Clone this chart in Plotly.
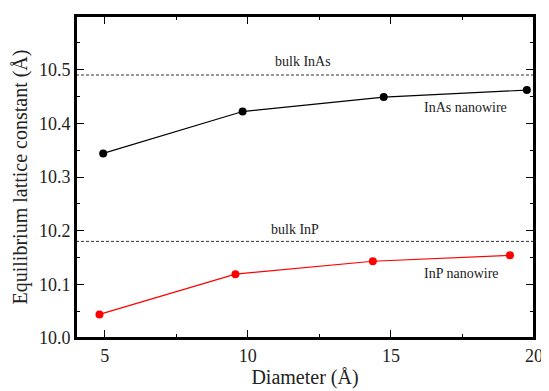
import plotly.graph_objects as go

inas_d = [4.95, 9.82, 14.75, 19.75]
inas_a = [10.344, 10.422, 10.449, 10.462]
inp_d = [4.82, 9.57, 14.37, 19.16]
inp_a = [10.044, 10.119, 10.143, 10.154]
bulk_inas = 10.49
bulk_inp = 10.18
x_range = [4, 20]
y_range = [10.0, 10.6]

font = "Liberation Serif"

fig = go.Figure()
fig.add_trace(go.Scatter(x=inas_d, y=inas_a, mode="lines+markers",
                         line=dict(color="black", width=1.2),
                         marker=dict(color="black", size=8), showlegend=False))
fig.add_trace(go.Scatter(x=inp_d, y=inp_a, mode="lines+markers",
                         line=dict(color="red", width=1.2),
                         marker=dict(color="red", size=8), showlegend=False))
for yv in [bulk_inas, bulk_inp]:
    fig.add_trace(go.Scatter(x=x_range, y=[yv, yv], mode="lines",
                             line=dict(color="#333333", width=1, dash="3px,2px"),
                             showlegend=False, hoverinfo="skip"))

ann = [
    (11.92, 10.515, "bulk InAs"),
    (17.6, 10.43, "InAs nanowire"),
    (11.64, 10.202, "bulk InP"),
    (17.47, 10.12, "InP nanowire"),
]
for x, y, t in ann:
    fig.add_annotation(x=x, y=y, text=t, showarrow=False,
                       font=dict(family=font, size=14, color="#222222"))

axis_common = dict(showgrid=False, zeroline=False, showline=True, linecolor="black",
                   linewidth=2, mirror="allticks", ticks="inside", ticklen=8,
                   tickwidth=1, tickcolor="black",
                   tickfont=dict(family=font, size=18, color="#222222"))

fig.update_xaxes(range=x_range, dtick=5, tick0=0,
                 minor=dict(dtick=2.5, ticks="inside", ticklen=4, tickcolor="black"),
                 title=dict(text="Diameter (Å)", font=dict(family=font, size=20, color="#222222"), standoff=4),
                 **axis_common)
fig.update_yaxes(range=y_range, dtick=0.1, tickformat=".1f",
                 minor=dict(dtick=0.05, ticks="inside", ticklen=4, tickcolor="black"),
                 title=dict(text="Equilibrium lattice constant (Å)", font=dict(family=font, size=20, color="#222222"), standoff=6),
                 **axis_common)

fig.add_shape(type="rect", xref="paper", yref="paper", x0=0, x1=1, y0=0, y1=1,
              line=dict(color="black", width=2), fillcolor="rgba(0,0,0,0)", layer="above")

fig.update_layout(width=541, height=383, margin=dict(l=68, r=9, t=6, b=53),
                  font=dict(family=font),
                  plot_bgcolor="white", paper_bgcolor="white")
fig.write_html("out.html")
